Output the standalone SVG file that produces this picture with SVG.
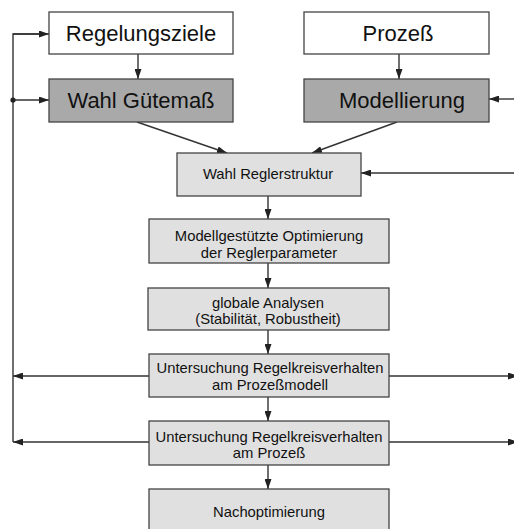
<svg xmlns="http://www.w3.org/2000/svg" width="514" height="529" viewBox="0 0 514 529">
<defs>
<marker id="ah" markerUnits="userSpaceOnUse" markerWidth="10" markerHeight="7" refX="10" refY="3.5" orient="auto">
<path d="M0,0 L10,3.5 L0,7 z" fill="#222"/>
</marker>
<style>
.box{stroke:#444;stroke-width:1.3}
.w{fill:#ffffff}
.d{fill:#a9a9a9}
.l{fill:#e0e0e0}
.big{font-family:"Liberation Sans",Arial,sans-serif;font-size:22px;fill:#111;text-anchor:middle}
.sm{font-family:"Liberation Sans",Arial,sans-serif;font-size:14.8px;fill:#111;text-anchor:middle}
.c{stroke:#333;stroke-width:1.4;fill:none}
.a{marker-end:url(#ah)}
</style>
</defs>
<rect width="514" height="529" fill="#ffffff"/>
<g id="connectors">
<line class="c a" x1="138" y1="54" x2="138" y2="79"/>
<line class="c a" x1="399" y1="54" x2="399" y2="79"/>
<line class="c a" x1="137" y1="122" x2="227" y2="153"/>
<line class="c a" x1="397" y1="122" x2="312" y2="153"/>
<line class="c a" x1="514" y1="99" x2="489" y2="99"/>
<line class="c a" x1="514" y1="173" x2="361" y2="173"/>
<line class="c a" x1="268" y1="196" x2="268" y2="219"/>
<line class="c a" x1="268" y1="263" x2="268" y2="288"/>
<line class="c a" x1="268" y1="330" x2="268" y2="354"/>
<line class="c a" x1="268" y1="397" x2="268" y2="421"/>
<line class="c a" x1="268" y1="465" x2="268" y2="489"/>
<line class="c a" x1="149" y1="376" x2="13" y2="376"/>
<line class="c a" x1="149" y1="442" x2="13" y2="442"/>
<polyline class="c" points="13,442 13,34 39,34"/>
<line class="c a" x1="13" y1="34" x2="49" y2="34"/>
<line class="c a" x1="13" y1="100" x2="49" y2="100"/>
<circle cx="13" cy="100" r="2.6" fill="#222"/>
<line class="c a" x1="389" y1="376" x2="518" y2="376"/>
<line class="c a" x1="389" y1="442" x2="518" y2="442"/>
</g>
<g id="regelungsziele">
<rect class="box w" x="49" y="12" width="184" height="42"/>
<text class="big" x="141" y="41">Regelungsziele</text>
</g>
<g id="prozess">
<rect class="box w" x="304" y="12" width="185" height="42"/>
<text class="big" x="398" y="41">Prozeß</text>
</g>
<g id="wahl-guetemass">
<rect class="box d" x="49" y="79" width="184" height="43"/>
<text class="big" x="141" y="108">Wahl Gütemaß</text>
</g>
<g id="modellierung">
<rect class="box d" x="304" y="79" width="185" height="43"/>
<text class="big" x="402" y="108">Modellierung</text>
</g>
<g id="wahl-reglerstruktur">
<rect class="box l" x="177" y="153" width="184" height="43"/>
<text class="sm" x="268" y="179">Wahl Reglerstruktur</text>
</g>
<g id="optimierung">
<rect class="box l" x="149" y="219" width="240" height="44"/>
<text class="sm" x="269" y="241">Modellgestützte Optimierung</text>
<text class="sm" x="269" y="258">der Reglerparameter</text>
</g>
<g id="analysen">
<rect class="box l" x="148" y="288" width="241" height="42"/>
<text class="sm" x="268" y="308">globale Analysen</text>
<text class="sm" x="268" y="324">(Stabilität, Robustheit)</text>
</g>
<g id="untersuchung-modell">
<rect class="box l" x="149" y="354" width="240" height="43"/>
<text class="sm" x="270" y="373">Untersuchung Regelkreisverhalten</text>
<text class="sm" x="270" y="390">am Prozeßmodell</text>
</g>
<g id="untersuchung-prozess">
<rect class="box l" x="149" y="421" width="240" height="44"/>
<text class="sm" x="269" y="442">Untersuchung Regelkreisverhalten</text>
<text class="sm" x="269" y="458">am Prozeß</text>
</g>
<g id="nachoptimierung">
<rect class="box l" x="149" y="489" width="240" height="50"/>
<text class="sm" x="269" y="517">Nachoptimierung</text>
</g>
</svg>
